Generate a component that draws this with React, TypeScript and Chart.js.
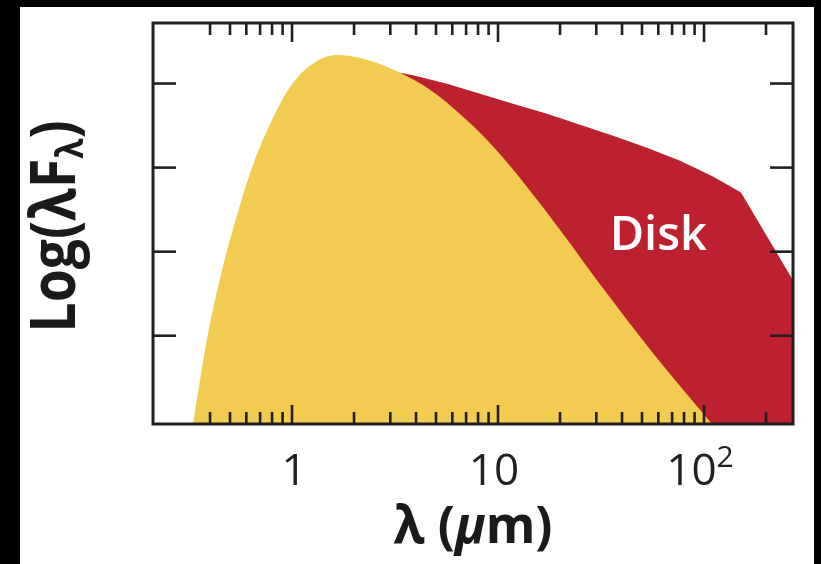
import { useEffect, useRef } from "react";
import { Chart, registerables } from "chart.js";

Chart.register(...registerables);

// Stellar photosphere: wavelength (μm) and log(λFλ) in arbitrary units
const starWavelength = [0.3307, 0.3575, 0.3911, 0.4471, 0.5113, 0.6394, 0.8088, 1.011, 1.323, 1.654, 2.138, 2.675, 3.344, 4.677, 6.763, 9.888, 14.3, 20.45, 31.27, 56.55, 109.3];
const starFlux = [-0.05, 0.472, 1.03, 1.682, 2.228, 2.999, 3.593, 4.008, 4.269, 4.34, 4.305, 4.233, 4.127, 3.925, 3.604, 3.201, 2.726, 2.228, 1.611, 0.792, -0.05];

// Star + disk envelope (infrared excess)
const diskWavelength = [2.99, 3.344, 3.868, 4.677, 5.654, 8.176, 11.82, 17.29, 25.0, 36.16, 52.87, 76.49, 110.5, 151.2, 270.5];
const diskFlux = [4.138, 4.127, 4.097, 4.049, 3.996, 3.877, 3.759, 3.64, 3.51, 3.379, 3.237, 3.082, 2.893, 2.703, 1.659];

// Axes
const xRange = [0.2114, 270.4];
const yRange = [-0.05, 4.72];
const xMajorTicks = [1, 10, 100];
const xMajorLabels = ["1", "10", "10"];
const xMajorExponents = ["", "", "2"];
const xMinorTicks = [0.4, 0.5, 0.6, 0.7, 0.8, 0.9, 2, 3, 4, 5, 6, 7, 8, 9, 20, 30, 40, 50, 60, 70, 80, 90, 200];
const yTicks = [1, 2, 3, 4];

// "Disk" annotation anchor (wavelength, log flux at baseline)
const diskLabelText = "Disk";
const diskLabelAt = [60, 2.015];

const INK = "#231F20";
const STAR_COLOR = "#F2CC50";
const DISK_COLOR = "#BD2130";
const FONT = '"Open Sans", "Noto Sans", sans-serif';

type Part = { text: string; font: string; dy?: number };

function drawParts(
  ctx: CanvasRenderingContext2D,
  parts: Part[],
  x: number,
  y: number,
  targetWidth?: number
) {
  const widths = parts.map((p) => {
    ctx.font = p.font;
    return ctx.measureText(p.text).width;
  });
  const total = widths.reduce((a, b) => a + b, 0);
  const s = targetWidth ? targetWidth / total : 1;
  ctx.save();
  ctx.translate(x, y);
  ctx.scale(s, 1);
  ctx.textAlign = "left";
  ctx.textBaseline = "alphabetic";
  let cursor = -total / 2;
  parts.forEach((p, i) => {
    ctx.font = p.font;
    ctx.fillText(p.text, cursor, p.dy ?? 0);
    cursor += widths[i];
  });
  ctx.restore();
}

const framePlugin = {
  id: "sedFrame",
  beforeDraw(chart: Chart) {
    const { ctx, width, height } = chart;
    ctx.save();
    ctx.fillStyle = "#000";
    ctx.fillRect(0, 0, width, height);
    ctx.fillStyle = "#fff";
    ctx.fillRect(20, 7, width - 27, height - 7);
    ctx.restore();
  },
  afterDraw(chart: Chart) {
    const { ctx, chartArea } = chart;
    const { left, right, top, bottom } = chartArea;
    const xs = chart.scales.x;
    const ys = chart.scales.y;

    ctx.save();
    ctx.strokeStyle = INK;
    ctx.lineCap = "butt";

    // inward tick marks on all four sides
    ctx.lineWidth = 2.6;
    const seg = (x1: number, y1: number, x2: number, y2: number) => {
      ctx.beginPath();
      ctx.moveTo(x1, y1);
      ctx.lineTo(x2, y2);
      ctx.stroke();
    };
    xMinorTicks.forEach((v) => {
      const px = xs.getPixelForValue(v);
      seg(px, bottom, px, bottom - 12);
      seg(px, top, px, top + 12);
    });
    xMajorTicks.forEach((v) => {
      const px = xs.getPixelForValue(v);
      seg(px, bottom, px, bottom - 19);
      seg(px, top, px, top + 19);
    });
    yTicks.forEach((v) => {
      const py = ys.getPixelForValue(v);
      seg(left, py, left + 23, py);
      seg(right, py, right - 23, py);
    });

    // frame
    ctx.lineWidth = 3;
    ctx.strokeRect(left, top, right - left, bottom - top);

    // x tick labels
    ctx.fillStyle = INK;
    xMajorTicks.forEach((v, i) => {
      const px = xs.getPixelForValue(v);
      const parts: Part[] = [{ text: xMajorLabels[i], font: `400 44px ${FONT}` }];
      if (xMajorExponents[i]) {
        parts.push({ text: xMajorExponents[i], font: `400 30px ${FONT}`, dy: -18 });
      }
      drawParts(ctx, parts, px - (i === 0 ? -2 : 4), bottom + 61);
    });

    // x axis title
    ctx.fillStyle = "#1a1a1a";
    drawParts(
      ctx,
      [
        { text: "λ (", font: `700 52px ${FONT}` },
        { text: "μ", font: `italic 700 52px ${FONT}` },
        { text: "m)", font: `700 52px ${FONT}` },
      ],
      (left + right) / 2,
      bottom + 119,
      159
    );

    // y axis title, rotated
    ctx.save();
    ctx.translate(75, (top + bottom) / 2 + 3);
    ctx.rotate(-Math.PI / 2);
    drawParts(
      ctx,
      [
        { text: "Log(λF", font: `700 62px ${FONT}` },
        { text: "λ", font: `700 38px ${FONT}`, dy: 8 },
        { text: ")", font: `700 62px ${FONT}` },
      ],
      0,
      0,
      212
    );
    ctx.restore();

    // disk annotation
    ctx.fillStyle = "#fff";
    drawParts(
      ctx,
      [{ text: diskLabelText, font: `600 47px ${FONT}` }],
      xs.getPixelForValue(diskLabelAt[0]),
      ys.getPixelForValue(diskLabelAt[1])
    );

    ctx.restore();
  },
};

export default function App() {
  const canvasRef = useRef<HTMLCanvasElement | null>(null);

  useEffect(() => {
    const canvas = canvasRef.current;
    if (!canvas) return;
    const chart = new Chart(canvas, {
      type: "line",
      data: {
        datasets: [
          {
            label: "Star",
            data: starWavelength.map((x, i) => ({ x, y: starFlux[i] })),
            backgroundColor: STAR_COLOR,
            borderColor: "rgba(0,0,0,0)",
            borderWidth: 0,
            fill: "start",
            cubicInterpolationMode: "monotone",
            pointRadius: 0,
          },
          {
            label: "Disk",
            data: diskWavelength.map((x, i) => ({ x, y: diskFlux[i] })),
            backgroundColor: DISK_COLOR,
            borderColor: "rgba(0,0,0,0)",
            borderWidth: 0,
            fill: "start",
            tension: 0,
            pointRadius: 0,
          },
        ],
      },
      options: {
        animation: false,
        responsive: false,
        devicePixelRatio: 1,
        layout: { padding: { left: 153, top: 23, right: 28, bottom: 140 } },
        plugins: {
          legend: { display: false },
          tooltip: { enabled: false },
        },
        scales: {
          x: { type: "logarithmic", min: xRange[0], max: xRange[1], display: false },
          y: { type: "linear", min: yRange[0], max: yRange[1], display: false },
        },
      },
      plugins: [framePlugin],
    });
    return () => chart.destroy();
  }, []);

  return (
    <div style={{ position: "fixed", left: 0, top: 0, width: 821, height: 564 }}>
      <canvas ref={canvasRef} width={821} height={564} style={{ display: "block" }} />
    </div>
  );
}
